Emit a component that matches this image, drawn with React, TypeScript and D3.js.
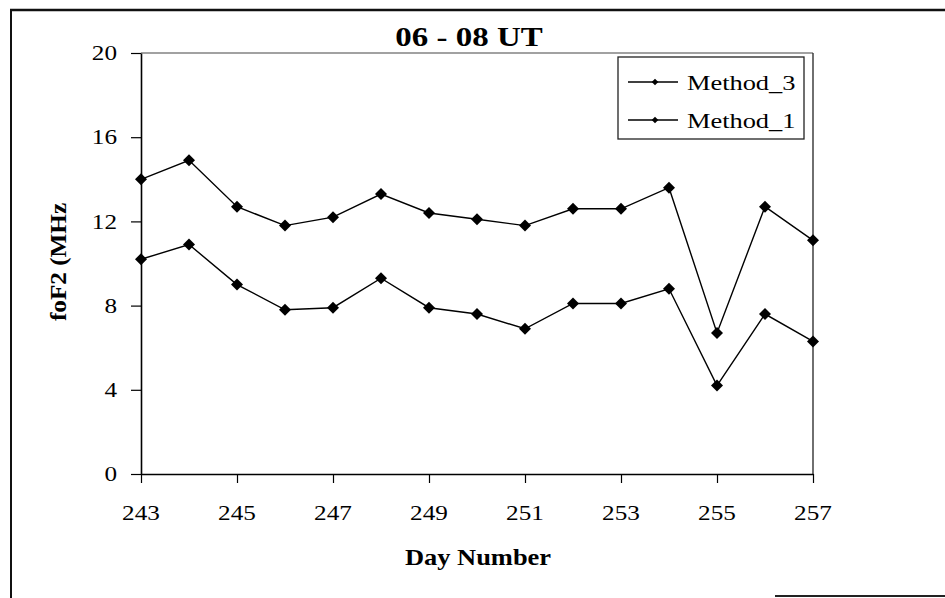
import React, { useRef, useEffect } from 'react';
import * as d3 from 'd3';

// Day numbers and foF2 values (MHz)
const days = [243, 244, 245, 246, 247, 248, 249, 250, 251, 252, 253, 254, 255, 256, 257];
const method3 = [14.0, 14.9, 12.7, 11.8, 12.2, 13.3, 12.4, 12.1, 11.8, 12.6, 12.6, 13.6, 6.7, 12.7, 11.1];
const method1 = [10.2, 10.9, 9.0, 7.8, 7.9, 9.3, 7.9, 7.6, 6.9, 8.1, 8.1, 8.8, 4.2, 7.6, 6.3];
const seriesNames = ['Method_3', 'Method_1'];
const xTickValues = [243, 245, 247, 249, 251, 253, 255, 257];
const yTickValues = [0, 4, 8, 12, 16, 20];

const FONT = '"Liberation Serif", "Times New Roman", serif';
const STRETCH = 1.2;

function App() {
  const svgRef = useRef(null);

  useEffect(() => {
    const svg = d3.select(svgRef.current);
    svg.selectAll('*').remove();

    const width = 945;
    const height = 598;
    const plot = { left: 141, right: 813, top: 53, bottom: 474 };

    const x = d3.scaleLinear().domain([243, 257]).range([plot.left, plot.right]);
    const y = d3.scaleLinear().domain([0, 20]).range([plot.bottom, plot.top]);

    svg.append('rect').attr('width', width).attr('height', height).attr('fill', '#fff');

    // outer frame (partly cut by the scan)
    svg.append('line').attr('x1', 10).attr('x2', width).attr('y1', 10).attr('y2', 10)
      .attr('stroke', '#111').attr('stroke-width', 2.5);
    svg.append('line').attr('x1', 11).attr('x2', 11).attr('y1', 10).attr('y2', height)
      .attr('stroke', '#111').attr('stroke-width', 2);
    svg.append('line').attr('x1', 775).attr('x2', width).attr('y1', 596).attr('y2', 596)
      .attr('stroke', '#222').attr('stroke-width', 2);

    // stretched serif text helper
    const label = (str, tx, ty, size, opts = {}) => {
      return svg.append('text')
        .attr('transform', `translate(${tx},${ty})${opts.rotate ? ` rotate(${opts.rotate})` : ''} scale(${opts.sx ?? STRETCH},1)`)
        .attr('text-anchor', opts.anchor || 'middle')
        .attr('dominant-baseline', 'central')
        .attr('font-family', FONT)
        .attr('font-size', size)
        .attr('font-weight', opts.bold ? 'bold' : 'normal')
        .attr('fill', '#000')
        .text(str);
    };

    // plot area frame: top and right
    svg.append('line').attr('x1', plot.left).attr('x2', plot.right).attr('y1', plot.top).attr('y2', plot.top)
      .attr('stroke', '#444').attr('stroke-width', 1.2);
    svg.append('line').attr('x1', plot.right).attr('x2', plot.right).attr('y1', plot.top).attr('y2', plot.bottom)
      .attr('stroke', '#333').attr('stroke-width', 1.4);

    // axes
    const yAxis = svg.append('g')
      .attr('transform', `translate(${plot.left},0)`)
      .call(d3.axisLeft(y).tickValues(yTickValues).tickSize(10).tickSizeOuter(0).tickFormat(() => ''));
    yAxis.select('.domain').attr('stroke', '#000').attr('stroke-width', 1.6);
    yAxis.selectAll('.tick line').attr('stroke', '#000').attr('stroke-width', 1.2);

    const xAxis = svg.append('g')
      .attr('transform', `translate(0,${plot.bottom})`)
      .call(d3.axisBottom(x).tickValues(xTickValues).tickSize(9).tickSizeOuter(0).tickFormat(() => ''));
    xAxis.select('.domain').attr('stroke', '#000').attr('stroke-width', 1.6);
    xAxis.selectAll('.tick line').attr('stroke', '#000').attr('stroke-width', 1.2);

    yTickValues.forEach(v => label(String(v), 117, y(v), 21, { anchor: 'end' }));
    xTickValues.forEach(v => label(String(v), x(v), 513, 21));

    // titles
    label('06 - 08 UT', 469, 37, 27, { bold: true, sx: 1.22 });
    label('Day Number', 478, 557, 23, { bold: true, sx: 1.15 });
    label('foF2 (MHz', 58, 262, 24, { bold: true, rotate: -90, sx: 1.05 });

    // series
    const series = [method3, method1];
    const line = d3.line()
      .x((d, i) => x(days[i]))
      .y(d => y(d));
    const marker = d3.symbol().type(d3.symbolSquare).size(72);

    series.forEach(values => {
      svg.append('path')
        .datum(values)
        .attr('d', line)
        .attr('fill', 'none')
        .attr('stroke', '#000')
        .attr('stroke-width', 1.4);

      svg.append('g')
        .selectAll('path')
        .data(values)
        .enter()
        .append('path')
        .attr('d', marker)
        .attr('transform', (d, i) => `translate(${x(days[i])},${y(d)}) rotate(45)`)
        .attr('fill', '#000');
    });

    // legend
    const legend = { x: 618, y: 57, w: 186, h: 82 };
    svg.append('rect')
      .attr('x', legend.x).attr('y', legend.y)
      .attr('width', legend.w).attr('height', legend.h)
      .attr('fill', '#fff').attr('stroke', '#222').attr('stroke-width', 1.3);

    const legendSymbol = d3.symbol().type(d3.symbolSquare).size(22);
    seriesNames.forEach((name, i) => {
      const cy = legend.y + 25 + i * 38;
      svg.append('line')
        .attr('x1', legend.x + 10).attr('x2', legend.x + 60)
        .attr('y1', cy).attr('y2', cy)
        .attr('stroke', '#000').attr('stroke-width', 1.3);
      svg.append('path')
        .attr('d', legendSymbol)
        .attr('transform', `translate(${legend.x + 37},${cy}) rotate(45)`)
        .attr('fill', '#000');
      label(name, legend.x + 69, cy, 22, { anchor: 'start' });
    });
  }, []);

  return (
    <svg
      ref={svgRef}
      width={945}
      height={598}
      style={{ position: 'absolute', left: 0, top: 0, display: 'block' }}
    />
  );
}

export default App;
